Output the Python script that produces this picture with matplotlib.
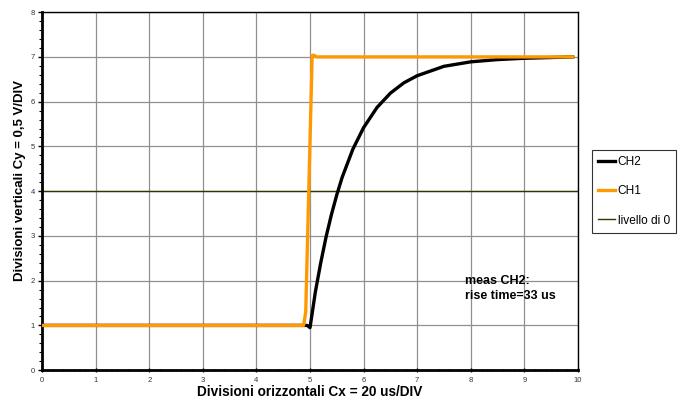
import matplotlib
matplotlib.use("Agg")
import matplotlib.pyplot as plt
from matplotlib.ticker import MultipleLocator

plt.rcParams['font.family'] = ['Liberation Sans', 'DejaVu Sans']

# values (divisions)
ch1_x = [0.0, 4.88, 4.92, 5.04, 5.07, 5.12, 9.9]
ch1_y = [1.0, 1.0, 1.3, 7.03, 7.04, 7.0, 7.0]

ch2_x = [0.0, 4.95, 5.0, 5.1, 5.2, 5.3, 5.4, 5.5, 5.6, 5.8, 6.0, 6.25, 6.5,
         6.75, 7.0, 7.5, 8.0, 8.5, 9.0, 9.9]
ch2_y = [1.0, 1.0, 0.95, 1.75, 2.40, 2.98, 3.48, 3.92, 4.31, 4.94, 5.42, 5.87,
         6.19, 6.42, 6.58, 6.79, 6.89, 6.94, 6.97, 7.0]

zero_x = [0, 10]
zero_y = [4, 4]

fig = plt.figure(figsize=(6.78, 4.05), dpi=100)
ax = fig.add_axes([0.062, 0.086, 0.7905, 0.884])

ax.plot(ch2_x, ch2_y, color='black', lw=2.4, label='CH2', zorder=3)
ax.plot(ch1_x, ch1_y, color='#FF9900', lw=2.4, label='CH1', zorder=4)
ax.plot(zero_x, zero_y, color='#333300', lw=1.0, label='livello di 0', zorder=2)

ax.set_xlim(0, 10)
ax.set_ylim(0, 8)
ax.xaxis.set_major_locator(MultipleLocator(1))
ax.yaxis.set_major_locator(MultipleLocator(1))
ax.xaxis.set_minor_locator(MultipleLocator(0.2))
ax.yaxis.set_minor_locator(MultipleLocator(0.2))
ax.grid(True, which='major', color='#909090', lw=0.9)
ax.set_axisbelow(True)

ax.tick_params(axis='both', which='major', labelsize=5.5, length=3, width=1,
               colors='black', labelcolor='#333333')
ax.tick_params(axis='both', which='minor', length=2, width=0.8)
ax.tick_params(axis='x', which='both', direction='inout')
ax.tick_params(axis='y', which='major', pad=2)

for s in ['top', 'right']:
    ax.spines[s].set_linewidth(1.0)
for s in ['left', 'bottom']:
    ax.spines[s].set_linewidth(2.0)

ax.set_xlabel('Divisioni orizzontali Cx = 20 us/DIV', fontsize=9.8,
              fontweight='bold', labelpad=0.5)
ax.set_ylabel('Divisioni verticali Cy = 0,5 V/DIV', fontsize=9.5,
              fontweight='bold')
ax.yaxis.set_label_coords(-0.03, 0.53)

ax.text(7.89, 1.52, 'meas CH2:\nrise time=33 us', fontsize=9,
        fontweight='bold', linespacing=1.3, va='bottom')

leg = ax.legend(loc='upper left', bbox_to_anchor=(1.026, 0.615), fontsize=8.6,
                frameon=True, fancybox=False, edgecolor='black',
                handlelength=1.4, handletextpad=0.25, labelspacing=1.45,
                borderpad=0.5, borderaxespad=0)
leg.get_frame().set_linewidth(0.8)

fig.savefig('out.png', dpi=100)
